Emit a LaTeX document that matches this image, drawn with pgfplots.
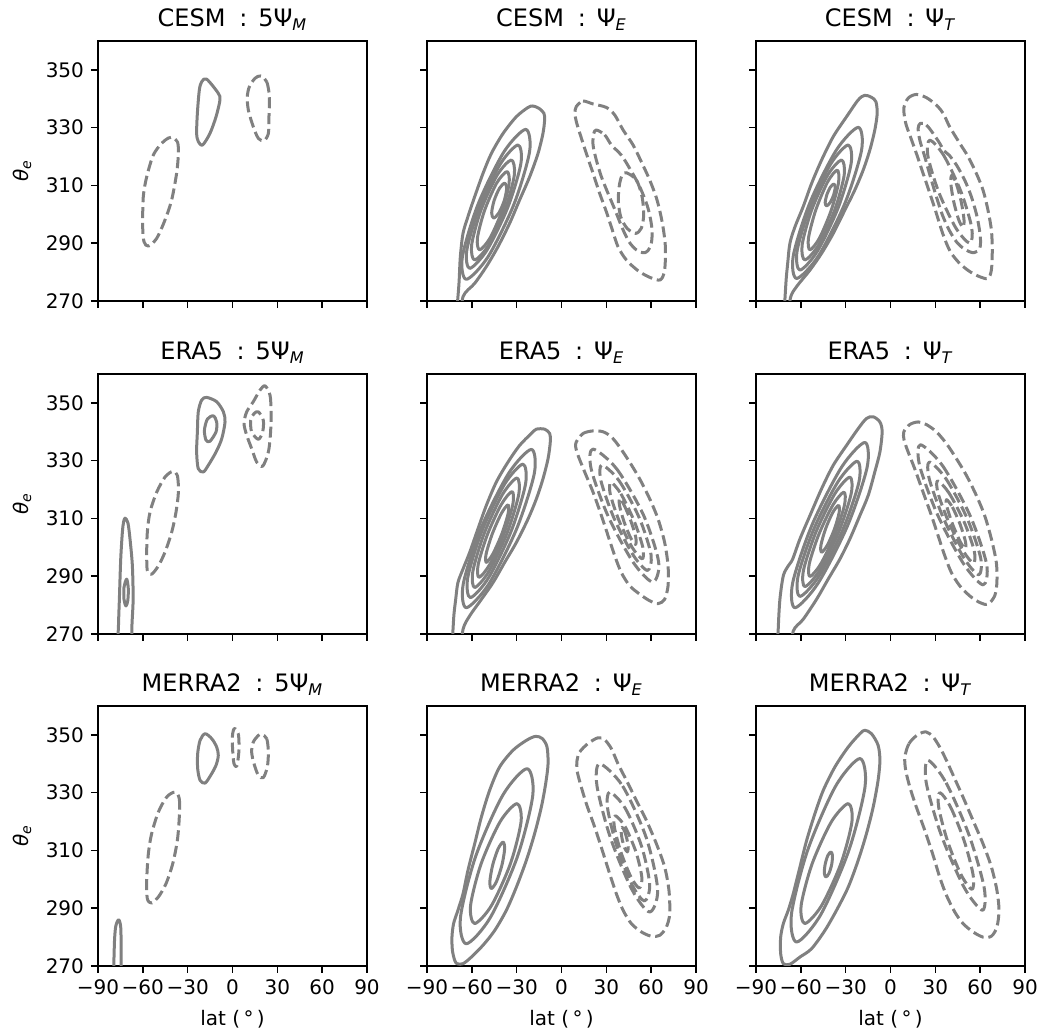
\documentclass[border=0pt]{standalone}
\usepackage{fontspec}
\setmainfont{DejaVu Sans}
\usepackage{pgfplots}
\pgfplotsset{compat=1.18}
\definecolor{cg}{RGB}{128,128,128}
\tikzset{
 sol/.style={cg, line width=1.5pt, smooth cycle, line join=round},
 das/.style={cg, line width=1.5pt, smooth cycle, line join=round, dash pattern=on 5.5pt off 2.4pt},
}
\newcommand{\ttl}[2]{#1\hspace{0.575em}:\hspace{0.45em}#2}
\pgfplotsset{
 every axis title shift=0pt,
 pan/.style={scale only axis, width=134.5pt, height=130pt, anchor=north west,
  xmin=-90,xmax=90,ymin=270,ymax=360,
  xtick={-90,-60,-30,0,30,60,90}, ytick={270,290,310,330,350},
  xticklabels={}, yticklabels={},
  tick align=outside, tick pos=left, major tick length=3.5pt,
  every tick/.style={black, line width=0.8pt},
  axis line style={line width=0.8pt},
  tick label style={font=\fontsize{10}{12}\selectfont},
  title style={font=\fontsize{12}{14}\selectfont, at={(0.5,1)}, anchor=base, yshift=7.2pt},
 },
 lc/.style={yticklabels={270,290,310,330,350}, ylabel={\textit{θ}\textsubscript{\textit{e}}},
  ylabel style={at={(axis description cs:-0.2825,0.5)}, anchor=center, font=\fontsize{10}{12}\selectfont}},
 br/.style={xticklabels={−90,−60,−30,0,30,60,90}, xlabel={lat (\,°\,)},
  xlabel style={at={(axis description cs:0.5,-0.229)}, anchor=base, font=\fontsize{10}{12}\selectfont}},
}
\begin{document}
\begin{tikzpicture}
\path[use as bounding box] (0,0) rectangle (522pt,-518pt);
% ---------------- CESM 5PsiM
\begin{axis}[pan, lc, at={(49pt,-20.5pt)}, title={\ttl{CESM}{5Ψ\textsubscript{\textit{M}}}}]
\addplot[sol] coordinates {(-17.3,346.8) (-9.5,341.9) (-8.4,339.6) (-11.0,333.8) (-15.1,328.0) (-20.0,324.0) (-22.9,325.2) (-24.0,328.0) (-23.5,335.0) (-22.2,343.0) (-20.6,345.9)};
\addplot[das] coordinates {(-40.7,326.7) (-36.9,325.2) (-36.2,321.1) (-37.4,314.2) (-40.7,305.0) (-45.2,298.0) (-50.7,291.7) (-56.3,289.0) (-59.2,290.5) (-60.1,295.7) (-59.7,306.1) (-57.4,313.0) (-53.0,320.5) (-47.4,324.6) (-42.9,326.4)};
\addplot[das] coordinates {(18.9,347.9) (22.9,345.9) (24.7,340.7) (24.4,333.8) (24.0,328.0) (21.1,325.5) (17.3,326.3) (13.9,330.3) (10.6,336.1) (9.9,340.7) (11.3,344.2) (15.1,347.1)};
\end{axis}
% ---------------- CESM PsiE
\begin{axis}[pan, at={(213.5pt,-20.5pt)}, title={\ttl{CESM}{Ψ\textsubscript{\textit{E}}}}]
\addplot[sol] coordinates {(-70.5,262) (-68.6,276.1) (-67.7,285.3) (-65.9,293.4) (-62.6,299.2) (-58.1,306.1) (-52.5,314.2) (-46.9,321.1) (-39.1,328.0) (-30.2,333.8) (-22.4,337.0) (-19.1,337.5) (-15.1,336.7) (-11.8,335.0) (-11.3,332.7) (-12.4,328.0) (-15.7,321.1) (-21.3,313.0) (-28.0,305.0) (-34.7,296.9) (-42.5,288.8) (-50.3,281.9) (-58.1,276.1) (-65.9,271.5) (-67.5,262)};
\addplot[sol] coordinates {(-24.0,329.4) (-21.38,321.62) (-31.85,303.45) (-49.18,285.28) (-63.7,277.5) (-66.32,285.28) (-55.85,303.45) (-38.52,321.62)};
\addplot[sol] coordinates {(-29.1,324.0) (-27.17,317.6) (-35.75,302.65) (-49.77,287.7) (-61.4,281.3) (-63.33,287.7) (-54.75,302.65) (-40.73,317.6)};
\addplot[sol] coordinates {(-33.6,318.8) (-31.57,313.61) (-37.85,301.5) (-48.72,289.39) (-58.1,284.2) (-60.14,289.39) (-53.85,301.5) (-42.99,313.61)};
\addplot[sol] coordinates {(-36.5,314.8) (-35.04,310.74) (-39.75,301.25) (-47.85,291.77) (-54.8,287.7) (-56.27,291.77) (-51.55,301.25) (-43.46,310.74)};
\addplot[sol] coordinates {(-38.0,310.8) (-36.68,308.99) (-38.3,304.75) (-41.86,300.52) (-45.4,298.7) (-46.72,300.52) (-45.1,304.75) (-41.54,308.99)};
\addplot[das] coordinates {(9.9,337.3) (14.4,339.2) (21.1,338.2) (30.0,337.0) (35.6,334.4) (41.2,329.2) (47.9,324.0) (53.4,318.2) (59.0,311.9) (63.9,305.0) (67.5,296.9) (69.5,288.8) (69.0,280.7) (66.1,277.3) (59.0,278.2) (51.2,280.5) (43.4,284.2) (37.8,288.8) (34.0,294.6) (30.0,300.9) (25.5,307.3) (21.1,314.2) (16.6,321.1) (12.6,327.5) (9.9,332.1) (9.0,335.0)};
\addplot[das] coordinates {(23.3,329.2) (28.9,327.5) (33.4,324.0) (40.0,320.5) (45.6,315.9) (52.3,309.6) (57.9,302.1) (60.6,294.6) (59.7,289.0) (55.7,286.7) (50.1,287.7) (45.2,290.5) (40.7,295.2) (36.3,300.9) (31.1,307.3) (26.7,313.0) (23.3,318.8) (21.1,324.0) (21.5,327.8)};
\addplot[das] coordinates {(43.4,314.4) (50.1,311.9) (53.9,306.1) (55.0,299.8) (53.4,295.2) (49.6,293.4) (43.8,295.2) (39.6,299.2) (38.0,305.0) (38.9,310.7) (40.7,313.6)};
\end{axis}
% ---------------- CESM PsiT
\begin{axis}[pan, at={(378pt,-20.5pt)}, title={\ttl{CESM}{Ψ\textsubscript{\textit{T}}}}]
\addplot[sol] coordinates {(-71.3,262) (-70.0,276.1) (-68.8,283.0) (-67.3,290.0) (-63.9,295.7) (-58.4,302.7) (-52.8,310.7) (-46.1,318.8) (-38.3,326.9) (-29.4,333.8) (-21.6,339.6) (-17.2,341.2) (-12.7,340.5) (-9.8,339.0) (-8.9,335.0) (-10.5,329.2) (-13.8,322.3) (-18.3,315.3) (-23.9,308.4) (-30.5,301.5) (-38.3,293.4) (-46.1,286.5) (-53.9,280.7) (-62.8,275.0) (-67.0,271.0) (-68.5,262)};
\addplot[sol] coordinates {(-21.6,330.1) (-19.35,322.26) (-30.4,303.95) (-48.19,285.64) (-62.8,277.8) (-65.05,285.64) (-54.0,303.95) (-36.21,322.26)};
\addplot[sol] coordinates {(-28.3,324.0) (-26.37,317.5) (-34.95,302.35) (-48.98,287.2) (-60.6,280.7) (-62.54,287.2) (-53.95,302.35) (-39.93,317.5)};
\addplot[sol] coordinates {(-32.8,318.8) (-30.98,313.61) (-37.35,301.5) (-48.13,289.39) (-57.3,284.2) (-59.13,289.39) (-52.75,301.5) (-41.98,313.61)};
\addplot[sol] coordinates {(-35.7,315.3) (-34.72,311.16) (-39.6,301.5) (-47.46,291.84) (-53.9,287.7) (-54.88,291.84) (-50.0,301.5) (-42.14,311.16)};
\addplot[sol] coordinates {(-37.9,310.5) (-37.0,309.36) (-38.05,306.7) (-40.43,304.04) (-42.8,302.9) (-43.71,304.04) (-42.65,306.7) (-40.28,309.36)};
\addplot[das] coordinates {(8.9,336.7) (11.8,340.2) (17.3,341.5) (24.0,340.4) (30.7,337.8) (35.2,335.0) (39.6,330.3) (46.3,324.6) (51.9,320.0) (57.4,314.2) (61.9,308.4) (65.2,301.5) (67.5,294.6) (68.1,287.7) (67.5,280.7) (65.2,277.8) (59.7,278.4) (53.0,280.2) (46.3,283.0) (40.7,286.5) (37.4,290.0) (34.1,294.6) (30.7,300.3) (26.3,307.3) (21.8,314.2) (17.3,321.1) (13.3,326.9) (10.2,331.5)};
\addplot[das] coordinates {(20.0,331.5) (24.0,330.9) (28.5,328.0) (32.9,324.6) (35.8,322.0) (39.2,320.5) (44.1,317.1) (49.6,311.9) (54.1,306.1) (57.9,299.2) (60.1,292.3) (59.7,288.2) (55.7,286.7) (49.6,287.9) (44.1,290.5) (39.2,294.6) (34.7,299.8) (30.7,306.1) (26.7,313.0) (22.9,320.0) (19.6,325.7) (18.5,329.8)};
\addplot[das] coordinates {(26.3,325.7) (35.67,320.35) (47.15,307.85) (54.36,295.35) (53.0,290.0) (43.64,295.35) (32.15,307.85) (24.95,320.35)};
\addplot[das] coordinates {(41.0,313.5) (43.92,310.8) (47.25,304.5) (49.17,298.2) (48.5,295.5) (45.59,298.2) (42.25,304.5) (40.34,310.8)};
\end{axis}
% ---------------- ERA5 5PsiM
\begin{axis}[pan, lc, at={(49pt,-187pt)}, title={\ttl{ERA5}{5Ψ\textsubscript{\textit{M}}}}]
\addplot[sol] coordinates {(-17.3,351.9) (-10.6,350.4) (-6.1,346.9) (-5.0,343.4) (-7.2,337.6) (-11.0,333.0) (-16.2,328.4) (-19.5,326.1) (-22.9,327.2) (-24.0,333.0) (-23.5,340.0) (-22.9,346.9) (-20.6,351.0)};
\addplot[sol] coordinates {(-12.8,345.5) (-10.6,343.4) (-11.0,340.0) (-15.1,336.7) (-17.7,337.1) (-18.8,340.5) (-16.8,344.4)};
\addplot[das] coordinates {(21.8,355.9) (25.1,352.7) (25.8,346.9) (25.5,340.0) (24.0,333.0) (20.2,328.1) (16.2,329.5) (12.8,334.2) (9.5,338.8) (7.7,342.9) (9.5,346.9) (13.9,350.4) (18.4,354.4)};
\addplot[das] coordinates {(17.3,346.9) (20.6,344.0) (20.2,340.0) (17.3,337.4) (12.8,340.0) (12.2,344.0) (14.4,346.3)};
\addplot[das] coordinates {(-40.0,326.3) (-36.9,324.9) (-36.2,319.1) (-37.8,312.2) (-40.7,305.2) (-45.2,298.3) (-49.6,293.6) (-54.1,290.7) (-57.0,291.9) (-57.4,298.3) (-57.0,305.2) (-55.2,312.2) (-50.7,319.1) (-45.2,324.3)};
\addplot[sol] coordinates {(-71.9,310.1) (-70.0,308.5) (-68.6,303.0) (-67.0,293.6) (-66.5,282.0) (-67.3,272.8) (-67.8,262) (-76.6,262) (-76.3,272.8) (-75.7,282.0) (-74.8,295.9) (-73.7,305.2) (-72.9,308.7)};
\addplot[sol] coordinates {(-70.8,289.0) (-69.7,285.5) (-70.1,281.5) (-71.3,279.7) (-72.6,282.0) (-72.6,286.1)};
\end{axis}
% ---------------- ERA5 PsiE
\begin{axis}[pan, at={(213.5pt,-187pt)}, title={\ttl{ERA5}{Ψ\textsubscript{\textit{E}}}}]
\addplot[sol] coordinates {(-73.0,262) (-72.2,275.1) (-70.8,282.0) (-69.3,287.8) (-65.9,292.5) (-61.4,298.3) (-55.9,306.4) (-50.3,314.5) (-43.6,322.6) (-35.8,329.5) (-28.0,335.3) (-20.2,339.4) (-16.8,340.9) (-11.3,340.9) (-7.9,339.4) (-7.5,336.5) (-9.0,330.7) (-12.4,323.7) (-16.8,316.8) (-22.4,309.8) (-30.2,301.7) (-38.0,294.8) (-45.8,287.8) (-53.6,282.0) (-61.4,276.3) (-65.9,271.6) (-68.0,262)};
\addplot[sol] coordinates {(-20.2,333.9) (-18.16,325.68) (-29.95,306.5) (-48.61,287.32) (-63.7,279.1) (-65.75,287.32) (-53.95,306.5) (-35.3,325.68)};
\addplot[sol] coordinates {(-25.8,328.8) (-24.08,321.87) (-33.6,305.7) (-48.72,289.53) (-61.0,282.6) (-62.72,289.53) (-53.2,305.7) (-38.08,321.87)};
\addplot[sol] coordinates {(-29.8,324.0) (-28.62,318.32) (-36.35,305.05) (-48.43,291.78) (-58.1,286.1) (-59.29,291.78) (-51.55,305.05) (-39.48,318.32)};
\addplot[sol] coordinates {(-33.1,319.3) (-32.56,314.85) (-38.75,304.45) (-48.03,294.05) (-55.2,289.6) (-55.75,294.05) (-49.55,304.45) (-40.28,314.85)};
\addplot[sol] coordinates {(-35.8,314.7) (-35.7,311.72) (-39.85,304.75) (-45.85,297.79) (-50.3,294.8) (-50.41,297.79) (-46.25,304.75) (-40.26,311.72)};
\addplot[das] coordinates {(9.9,336.5) (14.4,339.4) (21.1,340.3) (27.8,340.0) (33.4,338.2) (38.9,334.7) (45.6,329.5) (52.3,323.7) (59.0,316.8) (64.6,309.8) (69.0,301.7) (71.3,293.6) (71.3,286.7) (69.0,282.0) (64.6,280.5) (59.0,281.5) (52.3,283.8) (45.6,286.7) (40.0,291.3) (35.6,297.1) (31.1,304.1) (26.7,311.0) (21.1,319.1) (15.5,326.1) (11.0,331.9) (9.5,334.7)};
\addplot[das] coordinates {(21.0,334.0) (37.0,327.1) (55.0,311.0) (65.0,294.9) (61.0,288.0) (47.86,294.9) (31.0,311.0) (19.86,327.1)};
\addplot[das] coordinates {(27.0,328.5) (38.54,323.03) (52.0,310.25) (59.89,297.48) (57.5,292.0) (47.75,297.48) (35.0,310.25) (26.4,323.03)};
\addplot[das] coordinates {(33.0,322.5) (39.72,318.53) (48.5,309.25) (54.42,299.98) (54.0,296.0) (47.28,299.98) (38.5,309.25) (32.58,318.53)};
\addplot[das] coordinates {(39.0,317.0) (41.9,314.6) (46.5,309.0) (49.71,303.4) (49.5,301.0) (46.14,303.4) (41.75,309.0) (38.79,314.6)};
\end{axis}
% ---------------- ERA5 PsiT
\begin{axis}[pan, at={(378pt,-187pt)}, title={\ttl{ERA5}{Ψ\textsubscript{\textit{T}}}}]
\addplot[sol] coordinates {(-75.5,262) (-75.1,272.0) (-74.0,282.0) (-71.7,290.2) (-68.4,293.6) (-65.5,295.9) (-60.6,302.9) (-53.9,311.0) (-46.1,320.3) (-38.3,328.4) (-29.4,335.3) (-21.6,341.1) (-16.1,344.6) (-11.6,345.2) (-7.1,343.4) (-5.6,340.0) (-7.1,333.0) (-10.5,326.1) (-14.9,318.0) (-20.5,311.0) (-27.2,302.9) (-33.9,295.9) (-41.7,289.0) (-49.5,282.0) (-58.4,275.1) (-65.1,271.0) (-67.0,262)};
\addplot[sol] coordinates {(-17.2,336.3) (-15.64,327.72) (-28.55,307.7) (-48.33,287.68) (-63.9,279.1) (-65.47,287.68) (-52.55,307.7) (-32.78,327.72)};
\addplot[sol] coordinates {(-22.3,329.8) (-21.05,322.78) (-31.65,306.4) (-47.86,290.02) (-60.6,283.0) (-61.86,290.02) (-51.25,306.4) (-35.05,322.78)};
\addplot[sol] coordinates {(-27.2,324.3) (-26.29,318.62) (-34.65,305.35) (-47.36,292.08) (-57.3,286.4) (-58.22,292.08) (-49.85,305.35) (-37.15,318.62)};
\addplot[sol] coordinates {(-31.2,319.1) (-30.75,314.72) (-37.15,304.5) (-46.64,294.28) (-53.9,289.9) (-54.36,294.28) (-47.95,304.5) (-38.47,314.72)};
\addplot[sol] coordinates {(-34.8,314.5) (-34.36,312.07) (-37.45,306.4) (-42.27,300.73) (-46.1,298.3) (-46.55,300.73) (-43.45,306.4) (-38.64,312.07)};
\addplot[das] coordinates {(8.9,340.0) (12.9,342.5) (18.5,343.4) (24.0,342.5) (30.7,340.0) (37.4,335.9) (44.1,330.7) (50.8,324.9) (57.4,318.0) (63.0,311.0) (67.5,302.9) (70.8,294.8) (71.2,287.8) (69.7,283.2) (65.2,280.3) (59.7,280.9) (53.0,283.2) (46.3,286.7) (40.7,291.3) (36.3,297.1) (31.8,304.1) (27.4,311.0) (21.8,319.1) (16.2,327.2) (11.8,333.0) (9.1,337.1)};
\addplot[das] coordinates {(20.0,335.5) (34.87,328.23) (53.0,311.25) (64.27,294.28) (62.0,287.0) (48.92,294.28) (31.5,311.25) (19.52,328.23)};
\addplot[das] coordinates {(26.0,329.5) (37.23,323.65) (51.3,310.0) (60.33,296.35) (59.0,290.5) (49.05,296.35) (35.5,310.0) (25.95,323.65)};
\addplot[das] coordinates {(31.5,323.0) (39.24,318.73) (49.3,308.75) (56.04,298.78) (55.5,294.5) (48.62,298.78) (38.9,308.75) (31.82,318.73)};
\addplot[das] coordinates {(37.5,316.5) (41.37,313.95) (46.55,308.0) (50.12,302.05) (50.0,299.5) (46.55,302.05) (41.55,308.0) (37.8,313.95)};
\end{axis}
% ---------------- MERRA2 5PsiM
\begin{axis}[pan, lc, br, at={(49pt,-353pt)}, title={\ttl{MERRA2}{5Ψ\textsubscript{\textit{M}}}}]
\addplot[sol] coordinates {(-18.4,350.4) (-13.9,348.7) (-10.6,345.8) (-9.5,342.9) (-11.0,339.5) (-14.6,336.0) (-18.4,333.3) (-21.7,334.3) (-23.3,338.3) (-23.3,343.5) (-21.7,348.1)};
\addplot[das] coordinates {(1.7,352.2) (3.9,350.4) (4.4,345.8) (3.9,342.3) (2.8,339.1) (1.0,340.0) (0.1,344.7) (-0.1,349.3) (0.6,351.6)};
\addplot[das] coordinates {(19.5,350.2) (22.9,348.7) (24.0,344.1) (23.3,338.9) (20.6,335.2) (17.3,336.0) (14.4,340.0) (12.8,344.1) (13.9,347.5) (17.3,349.8)};
\addplot[das] coordinates {(-38.5,330.2) (-35.6,327.9) (-35.6,321.6) (-36.9,313.5) (-40.0,305.4) (-44.5,298.5) (-49.6,293.9) (-54.1,291.8) (-57.0,293.3) (-57.4,299.7) (-56.3,308.9) (-54.1,315.8) (-49.6,323.3) (-44.0,328.5)};
\addplot[sol] coordinates {(-76.2,286.0) (-74.8,283.5) (-74.6,276.6) (-75.0,262) (-79.3,262) (-79.1,276.6) (-78.2,283.5)};
\end{axis}
% ---------------- MERRA2 PsiE
\begin{axis}[pan, br, at={(213.5pt,-353pt)}, title={\ttl{MERRA2}{Ψ\textsubscript{\textit{E}}}}]
\addplot[sol] coordinates {(-69.9,270.8) (-71.5,272.0) (-73.0,275.4) (-73.3,280.0) (-72.2,284.7) (-69.3,289.3) (-65.9,295.0) (-62.6,303.1) (-58.1,312.3) (-53.6,321.6) (-48.1,330.8) (-41.4,338.9) (-32.4,344.7) (-23.5,348.1) (-17.3,349.5) (-12.8,348.7) (-9.7,345.8) (-9.0,340.0) (-10.6,333.1) (-13.5,325.0) (-18.0,315.8) (-23.5,306.6) (-30.2,297.3) (-36.9,289.3) (-44.7,282.3) (-52.5,277.2) (-60.3,273.1) (-65.9,270.8)};
\addplot[sol] coordinates {(-23.1,338.3) (-19.19,329.21) (-29.4,308.0) (-47.61,286.79) (-63.7,277.7) (-67.61,286.79) (-57.4,308.0) (-39.19,329.21)};
\addplot[sol] coordinates {(-29.8,326.2) (-27.05,319.98) (-34.15,305.45) (-46.86,290.93) (-58.1,284.7) (-60.86,290.93) (-53.75,305.45) (-41.05,319.98)};
\addplot[sol] coordinates {(-39.1,312.9) (-38.06,310.49) (-39.9,304.85) (-43.52,299.22) (-46.9,296.8) (-47.94,299.22) (-46.1,304.85) (-42.48,310.49)};
\addplot[das] coordinates {(10.4,341.2) (12.2,344.1) (17.7,347.0) (24.4,349.0) (28.9,348.3) (33.4,345.2) (37.8,340.0) (43.4,334.3) (50.1,327.3) (56.8,320.4) (63.5,312.3) (69.0,304.3) (71.9,296.2) (72.4,288.1) (70.2,283.5) (65.7,280.6) (60.1,280.3) (53.4,281.8) (46.7,284.7) (41.2,289.3) (36.7,295.0) (32.2,302.0) (27.3,310.0) (22.2,318.1) (16.6,326.2) (12.6,333.1) (10.4,337.7)};
\addplot[das] coordinates {(25.5,340.0) (40.88,332.31) (56.75,314.35) (64.33,296.4) (59.0,288.7) (47.2,296.4) (32.75,314.35) (23.75,332.31)};
\addplot[das] coordinates {(32.2,330.2) (42.7,324.55) (53.65,311.35) (59.01,298.16) (55.5,292.5) (47.15,298.16) (37.05,311.35) (30.84,324.55)};
\addplot[das] coordinates {(36.0,322.0) (42.54,318.25) (49.8,309.5) (53.74,300.75) (52.0,297.0) (46.53,300.75) (39.7,309.5) (35.33,318.25)};
\addplot[das] coordinates {(40.5,318.0) (42.17,316.73) (43.85,313.75) (44.62,310.78) (44.0,309.5) (42.34,310.78) (40.65,313.75) (39.89,316.73)};
\end{axis}
% ---------------- MERRA2 PsiT
\begin{axis}[pan, br, at={(378pt,-353pt)}, title={\ttl{MERRA2}{Ψ\textsubscript{\textit{T}}}}]
\addplot[sol] coordinates {(-71.7,270.8) (-73.5,274.3) (-73.5,280.0) (-71.7,284.7) (-68.4,289.3) (-65.1,295.0) (-60.6,304.3) (-56.1,313.5) (-50.6,322.7) (-45.0,330.8) (-37.2,338.9) (-28.3,345.8) (-20.5,350.4) (-17.2,351.6) (-12.7,350.4) (-8.3,346.4) (-7.1,341.2) (-8.3,334.3) (-11.6,325.0) (-16.1,315.8) (-21.6,306.6) (-28.3,297.3) (-36.1,289.3) (-43.9,282.3) (-52.8,276.0) (-60.6,273.1) (-67.3,270.6)};
\addplot[sol] coordinates {(-20.5,341.8) (-16.99,332.28) (-27.85,310.05) (-46.61,287.83) (-62.8,278.3) (-66.31,287.83) (-55.45,310.05) (-36.7,332.28)};
\addplot[sol] coordinates {(-28.3,326.2) (-25.8,319.98) (-33.2,305.45) (-46.1,290.93) (-57.3,284.7) (-59.8,290.93) (-52.4,305.45) (-39.5,319.98)};
\addplot[sol] coordinates {(-39.9,309.5) (-38.83,308.2) (-39.35,305.15) (-41.14,302.1) (-43.2,300.8) (-44.28,302.1) (-43.75,305.15) (-41.97,308.2)};
\addplot[das] coordinates {(9.6,342.3) (12.4,347.0) (18.5,350.2) (24.0,351.0) (28.5,349.3) (32.9,345.8) (37.4,341.2) (43.0,334.8) (48.5,328.5) (55.2,320.4) (61.9,312.3) (67.5,304.3) (71.2,296.2) (72.6,289.3) (71.2,283.5) (67.5,280.3) (61.9,280.0) (55.2,281.8) (48.5,284.7) (43.0,288.7) (37.4,294.5) (32.9,300.8) (28.5,308.3) (22.9,317.0) (17.3,325.0) (12.9,332.0) (10.2,337.7)};
\addplot[das] coordinates {(25.1,341.2) (37.2,333.42) (52.6,315.25) (62.68,297.09) (61.5,289.3) (49.4,297.09) (34.0,315.25) (23.92,333.42)};
\addplot[das] coordinates {(33.0,330.0) (40.23,324.98) (49.35,313.25) (55.28,301.53) (54.5,296.5) (47.28,301.53) (38.15,313.25) (32.23,324.98)};
\end{axis}
\end{tikzpicture}
\end{document}
